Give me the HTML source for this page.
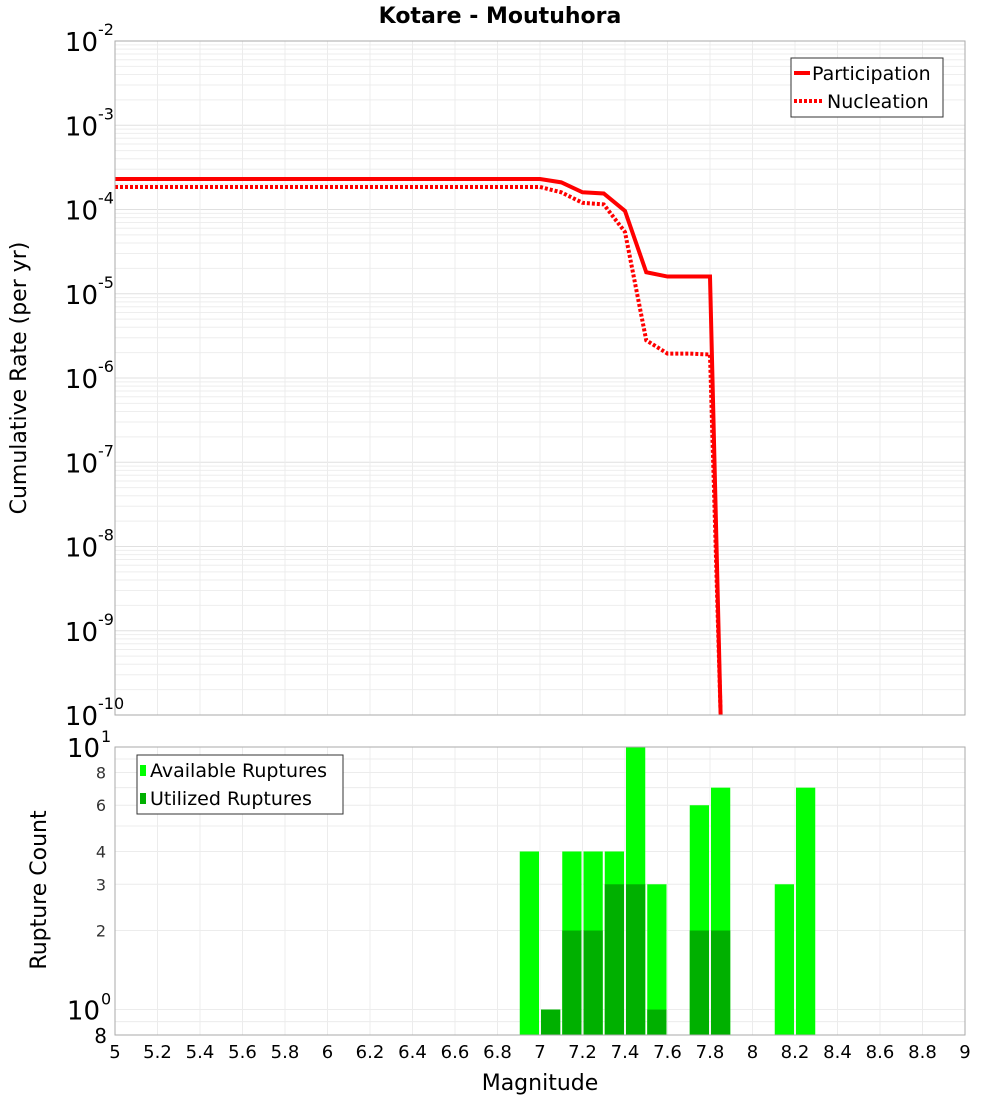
<!DOCTYPE html>
<html><head><meta charset="utf-8"><style>
body{margin:0;background:#fff;font-family:"Liberation Sans","DejaVu Sans",sans-serif}
</style></head><body>
<svg id="c" width="1000" height="1100" xmlns="http://www.w3.org/2000/svg" font-family="DejaVu Sans, Liberation Sans, sans-serif"></svg>
<script>
const magX = [5,5.1,5.2,5.3,5.4,5.5,5.6,5.7,5.8,5.9,6,6.1,6.2,6.3,6.4,6.5,6.6,6.7,6.8,6.9,7.0,7.1,7.2,7.3,7.4,7.5,7.6,7.7,7.8,7.85];
const partVals = [2.3e-4,2.3e-4,2.3e-4,2.3e-4,2.3e-4,2.3e-4,2.3e-4,2.3e-4,2.3e-4,2.3e-4,2.3e-4,2.3e-4,2.3e-4,2.3e-4,2.3e-4,2.3e-4,2.3e-4,2.3e-4,2.3e-4,2.3e-4,2.3e-4,2.1e-4,1.6e-4,1.55e-4,9.6e-5,1.8e-5,1.6e-5,1.6e-5,1.6e-5,1e-10];
const nuclVals = [1.85e-4,1.85e-4,1.85e-4,1.85e-4,1.85e-4,1.85e-4,1.85e-4,1.85e-4,1.85e-4,1.85e-4,1.85e-4,1.85e-4,1.85e-4,1.85e-4,1.85e-4,1.85e-4,1.85e-4,1.85e-4,1.85e-4,1.85e-4,1.85e-4,1.6e-4,1.2e-4,1.15e-4,5.4e-5,2.8e-6,1.95e-6,1.95e-6,1.9e-6,1e-10];
const binCenters = [6.95,7.05,7.15,7.25,7.35,7.45,7.55,7.75,7.85,8.15,8.25];
const availCounts = [4,1,4,4,4,10,3,6,7,3,7];
const usedCounts = [0,1,2,2,3,3,1,2,2,0,0];
const xTicks = [5,5.2,5.4,5.6,5.8,6,6.2,6.4,6.6,6.8,7,7.2,7.4,7.6,7.8,8,8.2,8.4,8.6,8.8,9];
const yExps = [-10,-9,-8,-7,-6,-5,-4,-3,-2];
const cntTicks = [2,3,4,6,8];

const svg=document.getElementById('c');const NS='http://www.w3.org/2000/svg';
function el(t,a,p){const e=document.createElementNS(NS,t);for(const k in a)e.setAttribute(k,a[k]);(p||svg).appendChild(e);return e;}
const L=115,R=965,T1=41,B1=715,T2=747,B2=1035;
const xs=m=>L+(m-5)/4*(R-L);
const y1=v=>B1-(Math.log10(v)+10)/8*(B1-T1);
const y2=v=>B2-(Math.log10(v)-Math.log10(0.8))/(1-Math.log10(0.8))*(B2-T2);

let g=el('g',{});

for(let e=-10;e<-2;e++)for(let k=1;k<10;k++){const y=y1(k*Math.pow(10,e));el('line',{x1:L,x2:R,y1:y,y2:y,stroke:k==1?'#e0e0e0':'#eeeeee','stroke-width':1},g);}
for(const t of xTicks){el('line',{x1:xs(t),x2:xs(t),y1:T1,y2:B1,stroke:'#ececec'},g);}
let g2=el('g',{});

for(let v=1;v<=10;v++){el('line',{x1:L,x2:R,y1:y2(v),y2:y2(v),stroke:'#ececec'},g2);}
el('line',{x1:L,x2:R,y1:y2(0.9),y2:y2(0.9),stroke:'#ececec'},g2);
for(const t of xTicks){el('line',{x1:xs(t),x2:xs(t),y1:T2,y2:B2,stroke:'#ececec'},g2);}

// bars
const bw=(R-L)/4*0.1;
binCenters.forEach((c,i)=>{
 const b=el('rect',{x:xs(c)-bw/2+1,width:bw-2,y:y2(availCounts[i]),height:B2-y2(availCounts[i]),fill:'#00ff00'});
 
 if(usedCounts[i]>0){const u=el('rect',{x:xs(c)-bw/2+1,width:bw-2,y:y2(usedCounts[i]),height:B2-y2(usedCounts[i]),fill:'#00b000'});
 }
});

// lines
const cp=el('clipPath',{id:'cp'});el('rect',{x:L,y:T1,width:R-L,height:B1-T1+2},cp);
function line(vals,dash,name){const p=el('polyline',{points:magX.map((m,i)=>xs(m)+','+y1(vals[i])).join(' '),fill:'none',stroke:'#ff0000','stroke-width':4,'clip-path':'url(#cp)'});
 if(dash)p.setAttribute('stroke-dasharray',dash);
 }
line(nuclVals,'3,2','nucleation-line');
line(partVals,null,'participation-line');

// frames
el('rect',{x:L,y:T1,width:R-L,height:B1-T1,fill:'none',stroke:'#aaaaaa'});
el('rect',{x:L,y:T2,width:R-L,height:B2-T2,fill:'none',stroke:'#aaaaaa'});

// title
let t=el('text',{x:500,y:23,'text-anchor':'middle','font-size':22,'font-weight':'bold'});t.textContent='Kotare - Moutuhora';


// top y labels
yExps.forEach(e=>{const y=y1(Math.pow(10,e));const tx=el('text',{x:98,y:y+10,'text-anchor':'end','font-size':26});tx.textContent='10';
 
 const s=el('text',{x:98,y:y-6,'font-size':16});s.textContent=String(e);
 });
// bottom y labels
[[10,'1'],[1,'0']].forEach(([v,e])=>{const y=y2(v);const tx=el('text',{x:100,y:y+10,'text-anchor':'end','font-size':26});tx.textContent='10';
 
 const s=el('text',{x:101,y:y-5,'font-size':16});s.textContent=e;
 });
cntTicks.forEach(v=>{const tx=el('text',{x:106,y:y2(v)+6,'text-anchor':'end','font-size':16,fill:'#333'});tx.textContent=v;
 });
let e8=el('text',{x:107,y:1043,'text-anchor':'end','font-size':20});e8.textContent='8';


xTicks.forEach(v=>{const tx=el('text',{x:xs(v),y:1058,'text-anchor':'middle','font-size':18});tx.textContent=String(v);
 });
let xt=el('text',{x:540,y:1090,'text-anchor':'middle','font-size':22});xt.textContent='Magnitude';

let yt=el('text',{x:0,y:0,'text-anchor':'middle','font-size':22,transform:'translate(26,378) rotate(-90)'});yt.textContent='Cumulative Rate (per yr)';

let yt2=el('text',{x:0,y:0,'text-anchor':'middle','font-size':22,transform:'translate(46,890) rotate(-90)'});yt2.textContent='Rupture Count';


// legends
let lg=el('g',{});
el('rect',{x:791,y:58,width:152,height:59,fill:'#fff',stroke:'#333'},lg);
el('line',{x1:794,x2:810,y1:73,y2:73,stroke:'#f00','stroke-width':4},lg);
el('line',{x1:794,x2:822,y1:101,y2:101,stroke:'#f00','stroke-width':4,'stroke-dasharray':'3,2'},lg);
let a=el('text',{x:812,y:80,'font-size':19},lg);a.textContent='Participation';
let b=el('text',{x:827,y:108,'font-size':19},lg);b.textContent='Nucleation';
let lg2=el('g',{});
el('rect',{x:137,y:755,width:206,height:59,fill:'#fff',stroke:'#333'},lg2);
el('rect',{x:140,y:765,width:6,height:11,fill:'#00ff00'},lg2);
el('rect',{x:140,y:793,width:6,height:11,fill:'#00b000'},lg2);
let c=el('text',{x:150,y:777,'font-size':19},lg2);c.textContent='Available Ruptures';
let d=el('text',{x:150,y:805,'font-size':19},lg2);d.textContent='Utilized Ruptures';
</script>
</body></html>
